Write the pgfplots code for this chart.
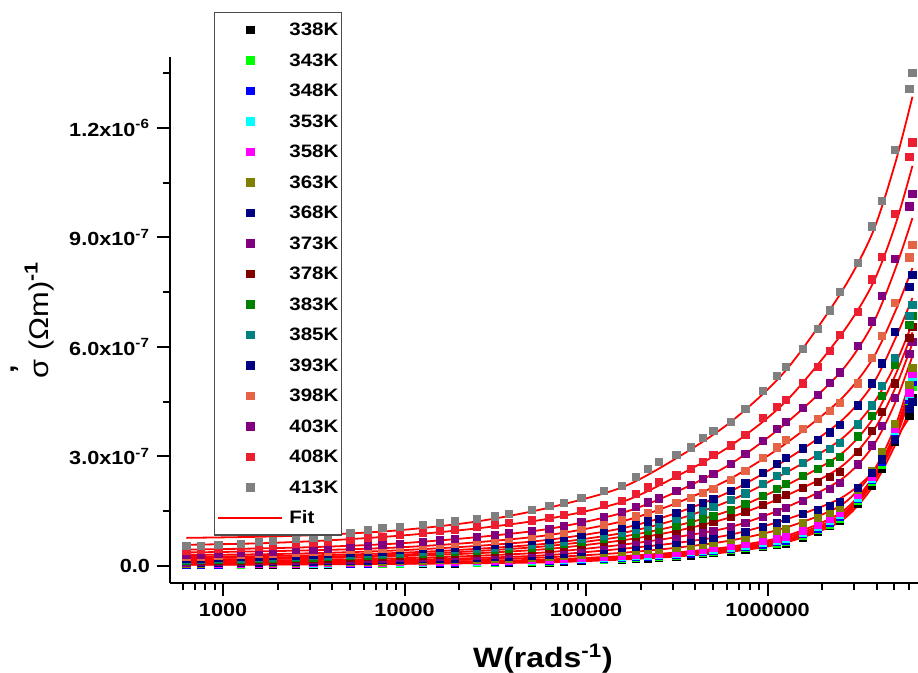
\documentclass[border=0pt]{standalone}
\usepackage{fontspec}
\setmainfont[FakeStretch=1.14]{Liberation Sans}
\usepackage{pgfplots}
\usepackage{pgfplotstable}
\pgfplotsset{compat=1.18}

\definecolor{c338}{RGB}{0,0,0}
\definecolor{c343}{RGB}{0,255,0}
\definecolor{c348}{RGB}{0,0,255}
\definecolor{c353}{RGB}{0,255,255}
\definecolor{c358}{RGB}{255,0,255}
\definecolor{c363}{RGB}{128,128,0}
\definecolor{c368}{RGB}{0,0,128}
\definecolor{c373}{RGB}{128,0,128}
\definecolor{c378}{RGB}{128,0,0}
\definecolor{c383}{RGB}{0,128,0}
\definecolor{c385}{RGB}{0,128,128}
\definecolor{c393}{RGB}{0,0,128}
\definecolor{c398}{RGB}{230,100,70}
\definecolor{c403}{RGB}{128,0,128}
\definecolor{c408}{RGB}{235,30,50}
\definecolor{c413}{RGB}{128,128,128}

% sigma' in units of 1e-7 (Ohm m)^-1
\pgfplotstableread{
x a338 a343 a348 a353 a358 a363 a368 a373 a378 a383 a385 a393 a398 a403 a408 a413
628 0.03 0.04 0.04 0.05 0.05 0.07 0.08 0.10 0.13 0.15 0.17 0.20 0.25 0.30 0.42 0.55
754 0.031 0.041 0.042 0.052 0.052 0.073 0.084 0.105 0.136 0.157 0.18 0.21 0.26 0.315 0.44 0.55
942 0.033 0.043 0.044 0.054 0.055 0.077 0.089 0.112 0.144 0.167 0.19 0.22 0.28 0.333 0.47 0.58
1257 0.035 0.045 0.047 0.057 0.06 0.082 0.095 0.12 0.155 0.18 0.205 0.24 0.30 0.36 0.50 0.61
1571 0.037 0.047 0.05 0.060 0.063 0.087 0.10 0.13 0.166 0.19 0.22 0.26 0.32 0.38 0.53 0.66
1885 0.038 0.048 0.052 0.063 0.066 0.091 0.108 0.136 0.174 0.20 0.23 0.27 0.33 0.40 0.56 0.68
2513 0.041 0.051 0.056 0.066 0.071 0.097 0.117 0.147 0.188 0.22 0.25 0.29 0.36 0.43 0.60 0.74
3142 0.043 0.053 0.059 0.069 0.075 0.102 0.124 0.157 0.20 0.23 0.265 0.31 0.38 0.45 0.63 0.77
3770 0.045 0.055 0.062 0.072 0.079 0.106 0.13 0.165 0.21 0.245 0.28 0.33 0.40 0.48 0.66 0.81
5027 0.048 0.058 0.066 0.076 0.085 0.113 0.141 0.18 0.227 0.265 0.30 0.36 0.43 0.52 0.72 0.90
6283 0.05 0.06 0.07 0.08 0.09 0.12 0.15 0.19 0.24 0.28 0.32 0.38 0.45 0.55 0.77 0.99
7540 0.053 0.063 0.074 0.084 0.095 0.127 0.158 0.20 0.253 0.30 0.34 0.40 0.47 0.58 0.80 1.04
9425 0.057 0.068 0.079 0.09 0.102 0.136 0.17 0.215 0.27 0.32 0.36 0.43 0.50 0.61 0.85 1.07
12566 0.062 0.074 0.086 0.099 0.111 0.148 0.185 0.234 0.29 0.34 0.39 0.46 0.54 0.66 0.90 1.12
15708 0.066 0.079 0.092 0.105 0.119 0.158 0.198 0.25 0.31 0.37 0.42 0.49 0.58 0.70 0.95 1.18
18850 0.07 0.084 0.097 0.111 0.125 0.167 0.21 0.265 0.33 0.39 0.44 0.51 0.61 0.74 0.99 1.22
25133 0.076 0.091 0.106 0.121 0.137 0.182 0.228 0.29 0.36 0.42 0.48 0.56 0.66 0.80 1.06 1.30
31416 0.081 0.097 0.114 0.13 0.146 0.195 0.243 0.31 0.38 0.45 0.51 0.59 0.70 0.85 1.12 1.36
37699 0.086 0.103 0.12 0.137 0.154 0.206 0.257 0.326 0.405 0.475 0.54 0.62 0.74 0.89 1.17 1.42
50265 0.094 0.112 0.131 0.15 0.168 0.224 0.28 0.355 0.44 0.51 0.58 0.68 0.80 0.96 1.25 1.53
62832 0.10 0.12 0.14 0.16 0.18 0.24 0.30 0.38 0.47 0.55 0.62 0.72 0.85 1.02 1.32 1.64
75398 0.12 0.14 0.155 0.18 0.20 0.27 0.34 0.43 0.52 0.60 0.67 0.78 0.92 1.10 1.40 1.73
94248 0.14 0.16 0.175 0.195 0.22 0.30 0.39 0.48 0.58 0.67 0.74 0.85 1.01 1.20 1.50 1.86
125664 0.16 0.18 0.20 0.22 0.25 0.35 0.45 0.55 0.66 0.75 0.83 0.95 1.13 1.35 1.67 2.05
157080 0.18 0.20 0.22 0.245 0.28 0.38 0.50 0.61 0.73 0.82 0.92 1.05 1.25 1.49 1.78 2.20
188496 0.20 0.22 0.24 0.265 0.30 0.41 0.53 0.65 0.79 0.89 1.00 1.14 1.36 1.62 1.97 2.45
219911 0.21 0.24 0.26 0.285 0.32 0.43 0.56 0.69 0.84 0.95 1.08 1.22 1.46 1.74 2.15 2.65
251327 0.22 0.25 0.27 0.30 0.33 0.45 0.58 0.72 0.88 1.00 1.15 1.30 1.55 1.85 2.30 2.85
314159 0.26 0.28 0.31 0.34 0.37 0.50 0.63 0.79 0.97 1.11 1.28 1.45 1.72 2.05 2.48 3.05
376991 0.29 0.32 0.34 0.38 0.41 0.55 0.68 0.86 1.06 1.21 1.41 1.59 1.87 2.22 2.65 3.25
439823 0.32 0.35 0.38 0.41 0.45 0.59 0.73 0.92 1.14 1.30 1.52 1.72 2.00 2.38 2.85 3.50
502655 0.35 0.38 0.41 0.44 0.49 0.64 0.77 0.97 1.21 1.38 1.62 1.83 2.12 2.53 3.05 3.70
628319 0.40 0.44 0.47 0.50 0.55 0.71 0.85 1.07 1.34 1.53 1.81 2.05 2.36 2.80 3.30 3.95
753982 0.45 0.49 0.52 0.55 0.60 0.78 0.94 1.18 1.48 1.69 1.99 2.26 2.61 3.06 3.60 4.30
942478 0.52 0.56 0.59 0.63 0.68 0.87 1.07 1.34 1.68 1.92 2.24 2.54 2.95 3.42 4.05 4.80
1130973 0.58 0.62 0.66 0.70 0.75 0.96 1.19 1.49 1.85 2.12 2.46 2.79 3.25 3.75 4.35 5.20
1256637 0.62 0.66 0.70 0.75 0.80 1.02 1.28 1.58 1.95 2.25 2.60 2.95 3.45 3.95 4.55 5.45
1570796 0.78 0.82 0.87 0.92 0.97 1.18 1.42 1.78 2.14 2.47 2.83 3.22 3.75 4.34 5.00 5.95
1884956 0.93 0.98 1.03 1.08 1.13 1.33 1.54 1.95 2.30 2.66 3.03 3.45 4.02 4.69 5.45 6.50
2199115 1.09 1.14 1.19 1.24 1.29 1.47 1.65 2.12 2.45 2.83 3.21 3.66 4.25 5.01 5.90 7.00
2513274 1.25 1.30 1.35 1.40 1.45 1.60 1.75 2.27 2.58 2.99 3.37 3.86 4.47 5.30 6.33 7.50
3141593 1.71 1.78 1.83 1.88 1.94 2.09 2.14 2.78 3.12 3.55 3.88 4.40 5.00 6.03 6.95 8.30
3769911 2.20 2.30 2.35 2.40 2.45 2.60 2.55 3.30 3.70 4.10 4.40 5.00 5.70 6.70 7.85 9.30
4272566 2.66 2.78 2.85 2.90 2.95 3.11 2.92 3.83 4.22 4.65 4.93 5.55 6.30 7.40 8.47 10.00
5026548 3.40 3.55 3.65 3.70 3.75 3.90 3.45 4.60 5.00 5.50 5.70 6.41 7.20 8.40 9.65 11.40
6049000 4.10 4.40 4.55 4.65 4.75 4.95 4.30 5.80 6.25 6.60 6.85 7.65 8.45 9.85 11.20 13.07
6283185 4.60 4.90 5.05 5.18 5.25 5.42 4.50 6.14 6.55 6.85 7.15 7.97 8.80 10.20 11.60 13.50
}\datatable

\pgfplotstableread{
x f338 f343 f348 f353 f358 f363 f368 f373 f378 f383 f385 f393 f398 f403 f408 f413
628 0.032 0.042 0.045 0.055 0.06 0.08 0.11 0.14 0.18 0.22 0.25 0.30 0.37 0.45 0.58 0.77
1571 0.037 0.047 0.05 0.06 0.065 0.09 0.115 0.15 0.19 0.23 0.27 0.32 0.40 0.48 0.62 0.80
3770 0.045 0.055 0.062 0.072 0.08 0.105 0.13 0.17 0.22 0.26 0.30 0.36 0.44 0.53 0.70 0.86
9425 0.057 0.068 0.08 0.09 0.10 0.135 0.165 0.21 0.27 0.31 0.36 0.43 0.51 0.62 0.83 0.98
25133 0.076 0.09 0.105 0.12 0.135 0.18 0.22 0.28 0.35 0.41 0.47 0.55 0.65 0.79 1.03 1.22
62832 0.10 0.12 0.14 0.16 0.18 0.24 0.30 0.38 0.47 0.55 0.62 0.72 0.85 1.02 1.30 1.60
157080 0.175 0.195 0.215 0.24 0.27 0.36 0.47 0.58 0.70 0.80 0.90 1.03 1.22 1.45 1.75 2.15
314159 0.26 0.28 0.31 0.34 0.37 0.50 0.63 0.79 0.96 1.10 1.27 1.45 1.72 2.03 2.45 2.95
628319 0.39 0.43 0.46 0.49 0.53 0.70 0.86 1.07 1.34 1.53 1.80 2.05 2.40 2.80 3.30 3.95
1256637 0.64 0.68 0.72 0.77 0.82 1.05 1.27 1.60 1.92 2.20 2.55 2.90 3.35 3.90 4.50 5.35
2513274 1.22 1.28 1.33 1.38 1.45 1.65 1.85 2.35 2.70 3.05 3.45 3.95 4.55 5.30 6.30 7.45
3769911 2.15 2.25 2.30 2.35 2.40 2.55 2.55 3.25 3.65 4.00 4.40 4.95 5.65 6.60 7.70 9.10
5026548 3.30 3.45 3.55 3.60 3.65 3.80 3.45 4.45 4.85 5.20 5.50 6.20 6.95 8.10 9.30 11.00
6283185 4.50 4.80 4.95 5.05 5.10 5.30 4.20 5.75 6.10 6.40 6.65 7.34 8.16 9.53 10.96 12.85
}\fittable

\begin{document}
\begin{tikzpicture}
\path[use as bounding box] (-85pt,-45pt) rectangle (374pt,291.5pt);
\begin{axis}[
  at={(0pt,0pt)}, anchor=south west,
  scale only axis, width=374pt, height=263pt,
  xmode=log, xmin=510, xmax=6.74e6, ymin=-0.466, ymax=13.94,
  axis x line*=bottom, axis y line*=left,
  axis line style={-, line width=1pt},
  tick align=outside, major tick length=6.5pt, minor tick length=3.5pt,
  tick style={black, line width=1pt},
  xtick={1000,10000,100000,1000000},
  xticklabels={1000,10000,100000,1000000},
  minor xtick={600,700,800,900,2000,3000,4000,5000,6000,7000,8000,9000,20000,30000,40000,50000,60000,70000,80000,90000,200000,300000,400000,500000,600000,700000,800000,900000,2000000,3000000,4000000,5000000,6000000},
  ytick={0,3,6,9,12}, minor ytick={1.5,4.5,7.5,10.5,13.5},
  yticklabels={0.0,3.0x10\textsuperscript{-7},6.0x10\textsuperscript{-7},9.0x10\textsuperscript{-7},1.2x10\textsuperscript{-6}},
  ticklabel style={font=\fontsize{9.5}{11}\selectfont\bfseries},
  xlabel={W(rads\textsuperscript{-1})},
  xlabel style={font=\fontsize{14}{16}\selectfont\bfseries, at={(axis description cs:0.4987,-0.1616)}, anchor=base},
  ylabel={\shortstack{{\bfseries\symbol{"27}}\\[-1pt]σ} (Ωm)\textsuperscript{\bfseries -1}},
  ylabel style={font=\fontsize{13.5}{16}\selectfont, at={(axis description cs:-0.163,0.50)}, anchor=base},
  legend style={at={(axis description cs:0.0588,1.0856)}, anchor=north west,
    draw=black!70, line width=0.6pt, fill=white,
    font=\fontsize{9}{10}\selectfont\bfseries,
    row sep=0pt, column sep=3pt, inner xsep=1.5pt, inner ysep=1pt,
    nodes={inner sep=0pt, text height=10.5pt, text depth=4.75pt}},
  legend cell align=left,
  legend image code/.code={\draw[mark repeat=2,mark phase=2,#1] plot coordinates {(0pt,0pt) (16pt,0pt) (32pt,0pt)};},
  every axis plot/.append style={mark size=1.8pt},
]
\addplot[only marks, mark=square*, color=c338] table[x=x,y=a338]{\datatable}; \addlegendentry{338K}
\addplot[only marks, mark=square*, color=c343] table[x=x,y=a343]{\datatable}; \addlegendentry{343K}
\addplot[only marks, mark=square*, color=c348] table[x=x,y=a348]{\datatable}; \addlegendentry{348K}
\addplot[only marks, mark=square*, color=c353] table[x=x,y=a353]{\datatable}; \addlegendentry{353K}
\addplot[only marks, mark=square*, color=c358] table[x=x,y=a358]{\datatable}; \addlegendentry{358K}
\addplot[only marks, mark=square*, color=c363] table[x=x,y=a363]{\datatable}; \addlegendentry{363K}
\addplot[only marks, mark=square*, color=c368] table[x=x,y=a368]{\datatable}; \addlegendentry{368K}
\addplot[only marks, mark=square*, color=c373] table[x=x,y=a373]{\datatable}; \addlegendentry{373K}
\addplot[only marks, mark=square*, color=c378] table[x=x,y=a378]{\datatable}; \addlegendentry{378K}
\addplot[only marks, mark=square*, color=c383] table[x=x,y=a383]{\datatable}; \addlegendentry{383K}
\addplot[only marks, mark=square*, color=c385] table[x=x,y=a385]{\datatable}; \addlegendentry{385K}
\addplot[only marks, mark=square*, color=c393] table[x=x,y=a393]{\datatable}; \addlegendentry{393K}
\addplot[only marks, mark=square*, color=c398] table[x=x,y=a398]{\datatable}; \addlegendentry{398K}
\addplot[only marks, mark=square*, color=c403] table[x=x,y=a403]{\datatable}; \addlegendentry{403K}
\addplot[only marks, mark=square*, color=c408] table[x=x,y=a408]{\datatable}; \addlegendentry{408K}
\addplot[only marks, mark=square*, color=c413] table[x=x,y=a413]{\datatable}; \addlegendentry{413K}
\addplot[red, line width=0.9pt, smooth, mark=none] table[x=x,y=f413]{\fittable}; \addlegendentry{Fit}
\addplot[red, line width=0.9pt, smooth, mark=none, forget plot] table[x=x,y=f408]{\fittable};
\addplot[red, line width=0.9pt, smooth, mark=none, forget plot] table[x=x,y=f403]{\fittable};
\addplot[red, line width=0.9pt, smooth, mark=none, forget plot] table[x=x,y=f398]{\fittable};
\addplot[red, line width=0.9pt, smooth, mark=none, forget plot] table[x=x,y=f393]{\fittable};
\addplot[red, line width=0.9pt, smooth, mark=none, forget plot] table[x=x,y=f385]{\fittable};
\addplot[red, line width=0.9pt, smooth, mark=none, forget plot] table[x=x,y=f383]{\fittable};
\addplot[red, line width=0.9pt, smooth, mark=none, forget plot] table[x=x,y=f378]{\fittable};
\addplot[red, line width=0.9pt, smooth, mark=none, forget plot] table[x=x,y=f373]{\fittable};
\addplot[red, line width=0.9pt, smooth, mark=none, forget plot] table[x=x,y=f368]{\fittable};
\addplot[red, line width=0.9pt, smooth, mark=none, forget plot] table[x=x,y=f363]{\fittable};
\addplot[red, line width=0.9pt, smooth, mark=none, forget plot] table[x=x,y=f358]{\fittable};
\addplot[red, line width=0.9pt, smooth, mark=none, forget plot] table[x=x,y=f353]{\fittable};
\addplot[red, line width=0.9pt, smooth, mark=none, forget plot] table[x=x,y=f348]{\fittable};
\addplot[red, line width=0.9pt, smooth, mark=none, forget plot] table[x=x,y=f343]{\fittable};
\addplot[red, line width=0.9pt, smooth, mark=none, forget plot] table[x=x,y=f338]{\fittable};
\end{axis}
\end{tikzpicture}
\end{document}
